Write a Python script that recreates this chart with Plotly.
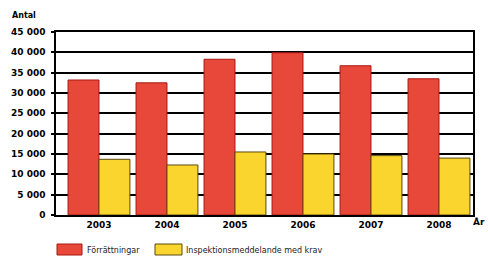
import plotly.graph_objects as go

years = ["2003", "2004", "2005", "2006", "2007", "2008"]
forrattningar = [33200, 32500, 38300, 39900, 36700, 33500]
inspektion = [13700, 12300, 15500, 15000, 14600, 14000]
y_ticks = [0, 5000, 10000, 15000, 20000, 25000, 30000, 35000, 40000, 45000]
y_tick_labels = ["0", "5 000", "10 000", "15 000", "20 000", "25 000", "30 000", "35 000", "40 000", "45 000"]
series_names = ["Förrättningar", "Inspektionsmeddelande med krav"]

RED, RED_EDGE = "#e8483a", "#a81812"
YEL, YEL_EDGE = "#f9d52e", "#5a4a10"

xpos = list(range(len(years)))

fig = go.Figure()
fig.add_trace(go.Bar(
    x=xpos, y=forrattningar, name=series_names[0],
    marker=dict(color=RED, line=dict(color=RED_EDGE, width=1)),
))
fig.add_trace(go.Bar(
    x=xpos, y=inspektion, name=series_names[1],
    marker=dict(color=YEL, line=dict(color=YEL_EDGE, width=1)),
))

# plot area in pixels: x 56..473, y 32..215
L, R, T, B, W, H = 56, 15, 32, 42, 488, 257
PW, PH = W - L - R, H - T - B
def px(x):
    return (x - L) / PW
def py(y):
    return (H - B - y) / PH

font_b = "DejaVu Sans"
shapes = [
    dict(type="rect", xref="paper", yref="paper", x0=px(57), x1=px(82), y0=py(255), y1=py(244),
         fillcolor=RED, line=dict(color=RED_EDGE, width=1)),
    dict(type="rect", xref="paper", yref="paper", x0=px(155), x1=px(182), y0=py(255), y1=py(244),
         fillcolor=YEL, line=dict(color=YEL_EDGE, width=1)),
]
annotations = [
    dict(text="<b>Antal</b>", xref="paper", yref="paper", x=px(10), y=py(16),
         xanchor="left", yanchor="middle", showarrow=False, font=dict(family=font_b, size=8)),
    dict(text="<b>År</b>", xref="paper", yref="paper", x=px(471), y=py(222),
         xanchor="left", yanchor="middle", showarrow=False, font=dict(family=font_b, size=9)),
    dict(text=series_names[0], xref="paper", yref="paper", x=px(85), y=py(250),
         xanchor="left", yanchor="middle", showarrow=False, font=dict(family=font_b, size=8, color="#222")),
    dict(text=series_names[1], xref="paper", yref="paper", x=px(184), y=py(250),
         xanchor="left", yanchor="middle", showarrow=False, font=dict(family=font_b, size=8, color="#222")),
]

fig.update_layout(
    width=W, height=H,
    margin=dict(l=L, r=R, t=T, b=B, autoexpand=False),
    paper_bgcolor="white", plot_bgcolor="white",
    barmode="group", bargap=0.09, bargroupgap=0,
    font=dict(family=font_b, size=9, color="black"),
    showlegend=False,
    shapes=shapes,
    annotations=annotations,
    xaxis=dict(
        range=[-0.632, 5.5], tickvals=xpos, ticktext=["<b>%s</b>" % y for y in years],
        showline=True, linecolor="black", linewidth=1.5, mirror=True,
        ticks="", showgrid=False, zeroline=False, automargin=False,
        tickfont=dict(family=font_b, size=9),
    ),
    yaxis=dict(
        range=[0, 45000], tickvals=y_ticks, ticktext=["<b>%s</b>" % t for t in y_tick_labels],
        showline=True, linecolor="black", linewidth=1.5, mirror=True,
        showgrid=True, gridcolor="black", gridwidth=1.5, zeroline=False, automargin=False,
        ticks="outside", ticklen=3, tickcolor="black", tickwidth=1.5, ticklabelstandoff=4,
        tickfont=dict(family=font_b, size=9),
    ),
)

fig.write_html("out.html", config={"displayModeBar": False},
               post_script="document.body.style.margin='0';document.body.style.overflow='hidden';")
